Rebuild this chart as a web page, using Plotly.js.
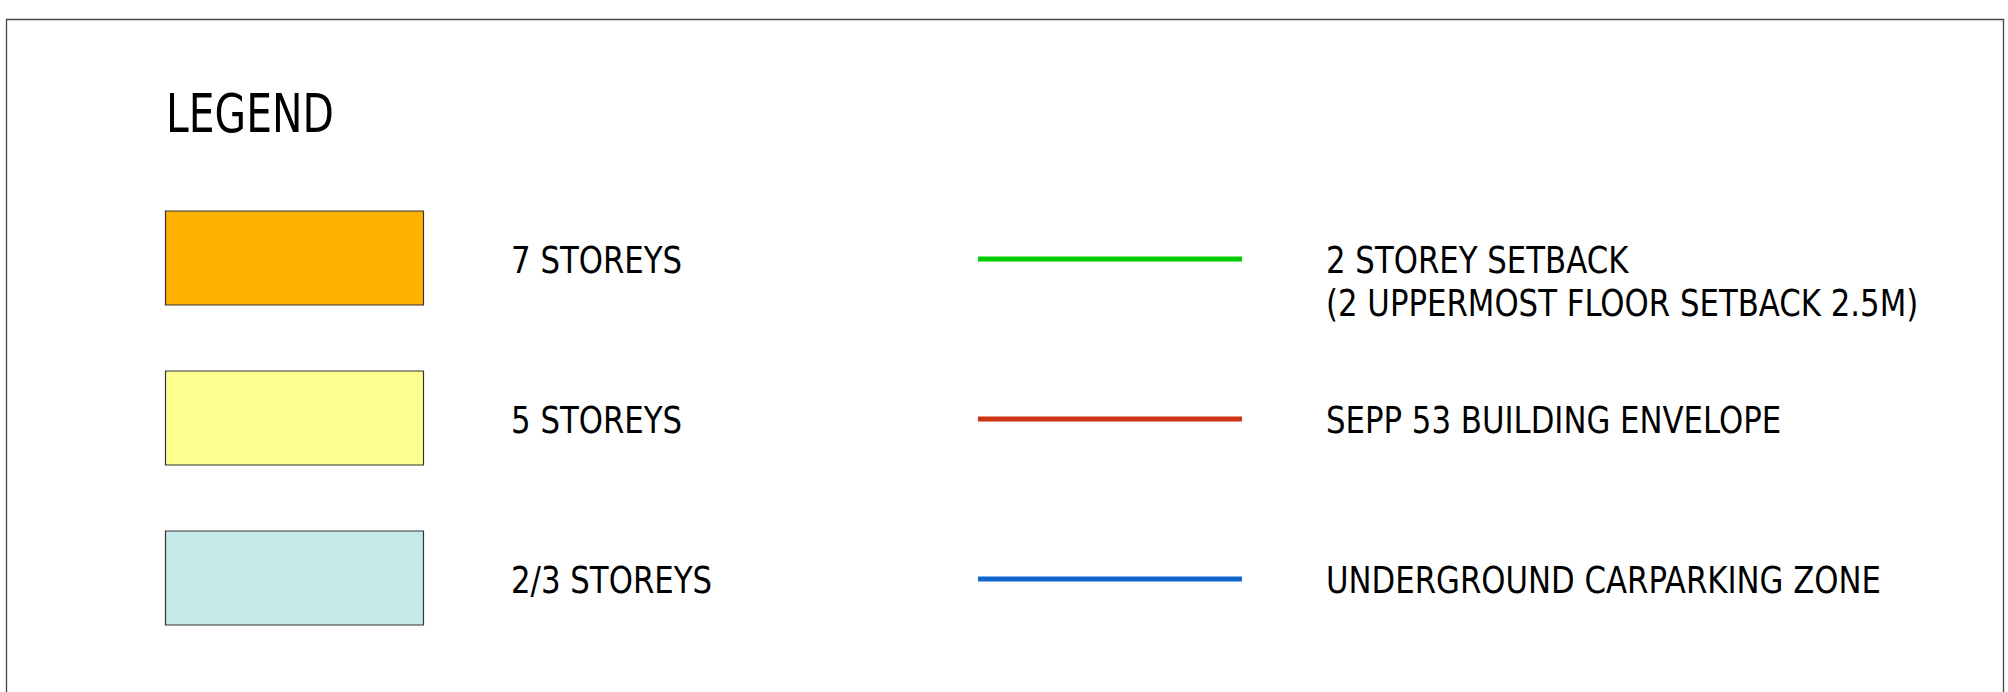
<!DOCTYPE html>
<html><head><meta charset="utf-8">
<script src="https://cdn.plot.ly/plotly-3.0.1.min.js"></script>
<style>html,body{margin:0;padding:0;background:#fff;overflow:hidden}</style>
</head><body><div id="chart" style="width:2008px;height:692px"></div>
<script>
// ---- data ----
const legendTitle = 'LEGEND';
const areaLabels = ['7 STOREYS', '5 STOREYS', '2/3 STOREYS'];
const areaColors = ['#FFB300', '#FFFF90', '#C5E8E8'];
const lineLabels = [
  ['2 STOREY SETBACK', '(2 UPPERMOST FLOOR SETBACK 2.5M)'],
  ['SEPP 53 BUILDING ENVELOPE'],
  ['UNDERGROUND CARPARKING ZONE']
];
const lineColors = ['#00CC00', '#CC3311', '#1166CC'];

// ---- layout helpers (pixel-like axis coordinates) ----
const FONT = '"DejaVu Sans Condensed", "Liberation Sans Narrow", sans-serif';
const SIZE = 37;
const LINE_GAP = 43.5;
const rowY = i => 258 + 160 * i;
const traces = [];
const shapes = [];
const annotations = [];

// frame
shapes.push({type: 'rect', xref: 'x', yref: 'y', x0: 6.5, x1: 2003.5, y0: 19.5, y1: 760,
  line: {color: '#444', width: 1.3}, fillcolor: 'rgba(0,0,0,0)'});

annotations.push({x: 164, y: 113, xref: 'x', yref: 'y', xanchor: 'left', yanchor: 'middle',
  text: legendTitle, showarrow: false, font: {family: FONT, size: 54, color: '#000'}});

areaLabels.forEach((lab, i) => {
  const yc = rowY(i);
  shapes.push({type: 'rect', xref: 'x', yref: 'y', x0: 165.5, x1: 423.5, y0: yc - 47, y1: yc + 47,
    fillcolor: areaColors[i], line: {color: '#333', width: 1.2}});
  annotations.push({x: 509, y: yc + 2, xref: 'x', yref: 'y', xanchor: 'left', yanchor: 'middle',
    text: lab, showarrow: false, font: {family: FONT, size: SIZE, color: '#000'}});
});

lineLabels.forEach((lines, i) => {
  const yc = rowY(i) + 1;
  traces.push({x: [978, 1242], y: [yc, yc], mode: 'lines', type: 'scatter',
    line: {color: lineColors[i], width: 5}, hoverinfo: 'skip', showlegend: false});
  annotations.push({x: 1324, y: rowY(i) + 2 + (lines.length - 1) * 0.65 * SIZE,
    xref: 'x', yref: 'y', xanchor: 'left', yanchor: 'middle', align: 'left',
    text: lines.join('<br>'), showarrow: false, font: {family: FONT, size: SIZE, color: '#000'}});
});

const layout = {
  width: 2008, height: 692,
  margin: {l: 0, r: 0, t: 0, b: 0, pad: 0},
  paper_bgcolor: '#fff', plot_bgcolor: '#fff',
  xaxis: {range: [0, 2008], visible: false, fixedrange: true},
  yaxis: {range: [692, 0], visible: false, fixedrange: true},
  shapes: shapes, annotations: annotations, showlegend: false
};
Plotly.newPlot('chart', traces, layout, {staticPlot: true, displayModeBar: false}).then(() => {
  // narrow the lettering to mimic the CAD stroke font, tighten multi-line spacing
  document.querySelectorAll('#chart .annotation-text').forEach(el => {
    const s = el.textContent === legendTitle ? 0.84 : 0.925;
    el.querySelectorAll('tspan.line').forEach((ts, k) => {
      if (k > 0) ts.setAttribute('dy', LINE_GAP);
    });
    el.style.transformBox = 'fill-box';
    el.style.transformOrigin = '0 0';
    el.style.transform = 'scaleX(' + s + ')';
  });
});
</script></body></html>
